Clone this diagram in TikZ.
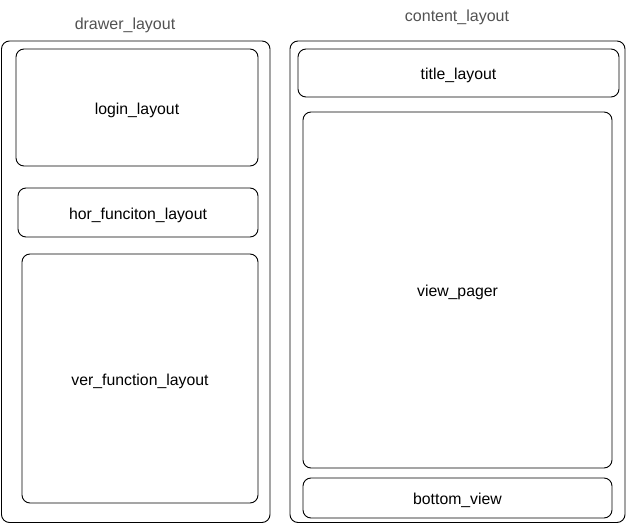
\documentclass[tikz,border=0pt]{standalone}
\usepackage{fontspec}
\setmainfont{Liberation Sans}
\begin{document}
\begin{tikzpicture}[x=1pt,y=-1pt,
  box/.style={draw=black,line width=0.9pt,rounded corners=8pt},
  boxlabel/.style={font=\fontsize{15.8}{18}\selectfont,text=black,yshift=-2.5pt},
  title/.style={font=\fontsize{16}{18}\selectfont,text=black!68}]
\useasboundingbox[fill=white] (0,0) rectangle (627,524);
\draw[box] (1.5,41) rectangle (270,522.5);
\draw[box] (290,41) rectangle (625,522.5);
\node[title] (dl) at (125,25.5) {drawer\_layout};
\node[title] (cl) at (457,17.5) {content\_layout};
\draw[box] (16,49) rectangle node[boxlabel] (login) {login\_layout} (258,166);
\draw[box] (18,188) rectangle node[boxlabel] (hor) {hor\_funciton\_layout} (258,237);
\draw[box] (22,254) rectangle node[boxlabel] (ver) {ver\_function\_layout} (258,503);
\draw[box] (298,49) rectangle node[boxlabel] (tit) {title\_layout} (619,97);
\draw[box] (303,112) rectangle node[boxlabel] (vp) {view\_pager} (612,468);
\draw[box] (303,478) rectangle node[boxlabel] (bv) {bottom\_view} (612,518);
\end{tikzpicture}
\end{document}
